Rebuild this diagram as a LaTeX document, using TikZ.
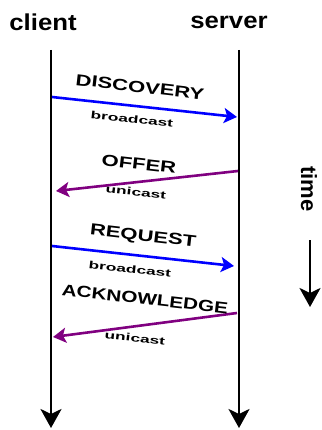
\documentclass[tikz,border=0pt]{standalone}
\usepackage{fontspec}
\setmainfont{Liberation Sans}
\usetikzlibrary{arrows.meta}
\definecolor{msgblue}{RGB}{0,0,255}
\definecolor{msgpurple}{RGB}{128,0,128}
\tikzset{
  lifeline/.style={line width=2.6pt,-{Stealth[width=21pt,length=19pt,inset=5pt]}},
  msg/.style={line width=2.6pt,-{Stealth[width=15pt,length=13pt,inset=3pt]}},
  head/.style={font=\bfseries\fontsize{23}{23}\selectfont,inner sep=0pt,xscale=1.12},
  lbl/.style={rotate=-6.5,font=\bfseries\fontsize{16}{16}\selectfont,inner sep=0pt,xscale=1.38},
  sub/.style={rotate=-6.5,font=\bfseries\fontsize{10.5}{10.5}\selectfont,inner sep=0pt,xscale=1.65}
}
\begin{document}
\begin{tikzpicture}[x=1pt,y=-1pt]
\useasboundingbox (0,0) rectangle (321,430);
\node[head] (client) at (43,22) {client};
\node[head] (server) at (229,22) {server};
\coordinate (ctop) at (51,50);
\coordinate (cbot) at (51,428);
\coordinate (stop) at (239,50);
\coordinate (sbot) at (239,428);
\draw[lifeline] (ctop) -- (cbot);
\draw[lifeline] (stop) -- (sbot);
% DISCOVERY
\coordinate (d1) at (52,97);
\coordinate (d2) at (237,117);
\draw[msg,msgblue] (d1) -- (d2);
\node[lbl] (discovery) at (140,87) {DISCOVERY};
\node[sub] (bc1) at (132,119) {broadcast};
% OFFER
\coordinate (o1) at (238,171);
\coordinate (o2) at (56,191);
\draw[msg,msgpurple] (o1) -- (o2);
\node[lbl] (offer) at (139,164) {OFFER};
\node[sub] (uc1) at (136,192) {unicast};
% REQUEST
\coordinate (r1) at (52,246);
\coordinate (r2) at (234,266);
\draw[msg,msgblue] (r1) -- (r2);
\node[lbl] (request) at (143,237) {REQUEST};
\node[sub] (bc2) at (130,269) {broadcast};
% ACKNOWLEDGE
\coordinate (a1) at (237,313);
\coordinate (a2) at (53,337);
\draw[msg,msgpurple] (a1) -- (a2);
\node[lbl,xscale=0.94] (ack) at (145,299) {ACKNOWLEDGE};
\node[sub] (uc2) at (135,338) {unicast};
% time
\node[font=\bfseries\fontsize{22}{22}\selectfont,inner sep=0pt,rotate=-90] (time) at (309,189) {time};
\coordinate (t1) at (310,240);
\coordinate (t2) at (310,307);
\draw[lifeline] (t1) -- (t2);
\end{tikzpicture}
\end{document}
